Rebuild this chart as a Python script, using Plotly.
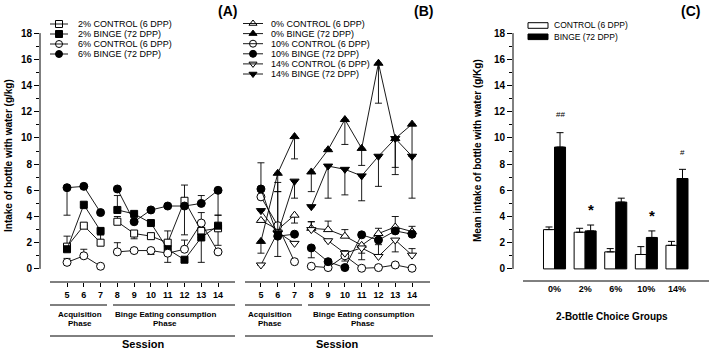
import plotly.graph_objects as go

W, H = 709, 350
FONT = "Arial, Liberation Sans, sans-serif"

# ---------------- data ----------------
sessions = [5, 6, 7, 8, 9, 10, 11, 12, 13, 14]
y_ticks = [0, 2, 4, 6, 8, 10, 12, 14, 16, 18]

# Panel A
a_2c = [1.7, 3.3, 2.0, 3.6, 2.7, 2.5, 2.0, 5.2, 2.9, 3.1]
a_2c_up = [0.8, 0, 0.6, 0.4, 0, 0, 0.9, 1.2, 0, 0]
a_2c_dn = [0, 0, 0, 0, 0.4, 0, 0, 0, 0, 1.3]
a_2b = [1.5, 4.9, 2.9, 4.5, 4.2, 3.5, 1.5, 0.7, 2.4, 3.3]
a_2b_up = [0, 0, 0, 1.1, 0, 0, 0, 0, 0, 0.8]
a_2b_dn = [0, 0.3, 0.3, 0, 0, 0, 1.0, 0, 1.9, 0]
a_6c = [0.5, 1.0, 0.2, 1.3, 1.4, 1.4, 1.2, 1.5, 3.5, 1.3]
a_6c_up = [0.3, 0.5, 0, 0.7, 0, 0, 0, 0.7, 0.8, 0]
a_6c_dn = [0, 0, 0, 0, 0, 0.3, 0, 0, 0, 0]
a_6b = [6.2, 6.3, 4.3, 6.1, 3.6, 4.5, 4.8, 4.8, 5.0, 6.0]
a_6b_up = [0, 0, 0, 0, 0, 0, 0, 0, 0.6, 0]
a_6b_dn = [2.1, 0, 0, 0, 0, 0, 0, 2.2, 0, 1.9]

# Panel B
b_0c = [3.7, 3.0, 4.1, 3.1, 3.0, 2.5, 1.8, 2.7, 3.2, 2.85]
b_0c_up = [0, 3.6, 0, 0.5, 0.65, 0.5, 0, 0.4, 0.8, 0.4]
b_0c_dn = [0, 0, 0.6, 0, 0, 0, 0.6, 0, 0, 0]
b_0b = [2.1, 7.3, 10.1, 7.4, 9.1, 11.4, 9.2, 15.7, 9.95, 11.05]
b_0b_up = [0, 0, 0, 0, 0, 0, 0, 0, 0, 0]
b_0b_dn = [0.9, 1.4, 1.7, 1.5, 0, 1.9, 1.3, 3.05, 2.2, 2.45]
b_10c = [5.5, 3.3, 0.55, 0.2, 0.1, 1.0, 0.05, 0.1, 0.3, 0.05]
b_10c_up = [0, 0, 0, 0, 0, 0.4, 0, 0, 0, 0]
b_10c_dn = [0, 0, 0, 0, 0, 0.4, 0, 0, 0, 0]
b_10b = [6.1, 2.5, 2.65, 1.6, 0.55, 0.1, 2.6, 2.2, 2.9, 2.65]
b_10b_up = [2.0, 0, 0, 0, 0, 0, 0, 0, 0, 0]
b_10b_dn = [0, 1.55, 0, 0.75, 0, 0, 0, 0, 0, 0]
b_14c = [0.3, 2.8, 1.95, 3.0, 2.15, 1.2, 1.6, 0.95, 2.2, 1.05]
b_14c_up = [0, 3.1, 0, 0.6, 0, 0, 0, 0.9, 0, 0.5]
b_14c_dn = [0, 0, 0, 0, 0, 0, 0.9, 0, 0.9, 0]
b_14b = [4.45, 2.7, 6.7, 4.75, 7.85, 7.6, 7.1, 8.6, 9.95, 8.6]
b_14b_up = [0, 0, 0, 0, 0, 0, 0, 0, 0, 0]
b_14b_dn = [0, 0, 1.3, 0, 2.45, 1.95, 1.9, 2.3, 2.75, 3.2]

# Panel C
groups = ["0%", "2%", "6%", "10%", "14%"]
c_ctrl = [3.0, 2.8, 1.3, 1.1, 1.8]
c_ctrl_err = [0.2, 0.3, 0.25, 0.6, 0.3]
c_binge = [9.3, 2.9, 5.1, 2.4, 6.9]
c_binge_err = [1.1, 0.45, 0.3, 0.5, 0.7]
c_marks = ["##", "*", "", "*", "#"]

legend_a = ["2% CONTROL (6 DPP)", "2% BINGE (72 DPP)", "6% CONTROL (6 DPP)", "6% BINGE (72 DPP)"]
legend_b = ["0% CONTROL (6 DPP)", "0% BINGE (72 DPP)", "10% CONTROL (6 DPP)",
            "10% BINGE (72 DPP)", "14% CONTROL (6 DPP)", "14% BINGE (72 DPP)"]
legend_c = ["CONTROL (6 DPP)", "BINGE (72 DPP)"]

# ---------------- helpers ----------------
def px(x):
    return x / W


def py(y):
    return 1 - y / H


def with_gap(vals, fill=None):
    # break the line between the acquisition (5-7) and binge (8-14) phases
    return list(vals[:3]) + [fill] + list(vals[3:])


gx = with_gap(sessions, 7.5)

fig = go.Figure()


def add_series(y, up, dn, symbol, filled, xa, ya, size=7):
    fig.add_trace(go.Scatter(
        x=gx, y=with_gap(y), xaxis=xa, yaxis=ya, mode="lines+markers",
        line=dict(color="black", width=0.9),
        marker=dict(symbol=symbol, size=size, color="black" if filled else "white",
                    line=dict(color="black", width=1)),
        error_y=dict(type="data", symmetric=False, array=with_gap(up, 0),
                     arrayminus=with_gap(dn, 0), color="black", thickness=0.9, width=3.5),
        showlegend=False, connectgaps=False, cliponaxis=False))


series_a = [
    (a_2c, a_2c_up, a_2c_dn, "square", False, 7),
    (a_2b, a_2b_up, a_2b_dn, "square", True, 7),
    (a_6c, a_6c_up, a_6c_dn, "circle", False, 8),
    (a_6b, a_6b_up, a_6b_dn, "circle", True, 8),
]
for y, up, dn, sym, filled, sz in series_a:
    add_series(y, up, dn, sym, filled, "x", "y", sz)

series_b = [
    (b_0c, b_0c_up, b_0c_dn, "triangle-up", False, 8),
    (b_0b, b_0b_up, b_0b_dn, "triangle-up", True, 8),
    (b_10c, b_10c_up, b_10c_dn, "circle", False, 8),
    (b_10b, b_10b_up, b_10b_dn, "circle", True, 8),
    (b_14c, b_14c_up, b_14c_dn, "triangle-down", False, 8),
    (b_14b, b_14b_up, b_14b_dn, "triangle-down", True, 8),
]
for y, up, dn, sym, filled, sz in series_b:
    add_series(y, up, dn, sym, filled, "x2", "y2", sz)

# Panel C bars
fig.add_trace(go.Bar(
    x=groups, y=c_ctrl, xaxis="x3", yaxis="y3", name=legend_c[0],
    marker=dict(color="white", line=dict(color="black", width=1)),
    error_y=dict(type="data", symmetric=False, array=c_ctrl_err, arrayminus=[0] * len(groups),
                 color="black", thickness=1, width=3.5),
    showlegend=False))
fig.add_trace(go.Bar(
    x=groups, y=c_binge, xaxis="x3", yaxis="y3", name=legend_c[1],
    marker=dict(color="black", line=dict(color="black", width=1)),
    error_y=dict(type="data", symmetric=False, array=c_binge_err, arrayminus=[0] * len(groups),
                 color="black", thickness=1, width=3.5),
    showlegend=False))

# ---------------- custom legends ----------------
shapes = []
annotations = []
leg_x, leg_y, leg_sym, leg_fill = [], [], [], []

rows_a = [24, 34, 44, 54]
for i, (label, s) in enumerate(zip(legend_a, series_a)):
    yy = rows_a[i]
    shapes.append(dict(type="line", xref="paper", yref="paper", x0=px(50), x1=px(68),
                       y0=py(yy), y1=py(yy), line=dict(color="black", width=0.9)))
    leg_x.append(59); leg_y.append(yy); leg_sym.append(s[3]); leg_fill.append("black" if s[4] else "white")
    annotations.append(dict(text=label, x=px(76), y=py(yy), xref="paper", yref="paper",
                            xanchor="left", yanchor="middle", showarrow=False,
                            font=dict(family=FONT, size=9, color="black")))

rows_b = [23.5, 33.6, 43.7, 53.8, 63.9, 74]
for i, (label, s) in enumerate(zip(legend_b, series_b)):
    yy = rows_b[i]
    shapes.append(dict(type="line", xref="paper", yref="paper", x0=px(243), x1=px(263),
                       y0=py(yy), y1=py(yy), line=dict(color="black", width=0.9)))
    leg_x.append(253); leg_y.append(yy); leg_sym.append(s[3]); leg_fill.append("black" if s[4] else "white")
    annotations.append(dict(text=label, x=px(269), y=py(yy), xref="paper", yref="paper",
                            xanchor="left", yanchor="middle", showarrow=False,
                            font=dict(family=FONT, size=9, color="black")))

fig.add_trace(go.Scatter(
    x=leg_x, y=leg_y, xaxis="x4", yaxis="y4", mode="markers",
    marker=dict(symbol=leg_sym, size=7, color=leg_fill, line=dict(color="black", width=1)),
    showlegend=False, hoverinfo="skip", cliponaxis=False))

# C legend boxes
for (y0, y1, fill, label, yc) in [(22.7, 28.3, "white", legend_c[0], 25.5),
                                  (34.0, 39.6, "black", legend_c[1], 36.8)]:
    shapes.append(dict(type="rect", xref="paper", yref="paper", x0=px(528), x1=px(548),
                       y0=py(y1), y1=py(y0), fillcolor=fill, line=dict(color="black", width=1)))
    annotations.append(dict(text=label, x=px(552), y=py(yc), xref="paper", yref="paper",
                            xanchor="left", yanchor="middle", showarrow=False,
                            font=dict(family=FONT, size=8.5, color="black")))

# ---------------- axis lines & phase brackets ----------------
def hline(x0, x1, yy, w=1):
    shapes.append(dict(type="line", xref="paper", yref="paper", x0=px(x0), x1=px(x1),
                       y0=py(yy), y1=py(yy), line=dict(color="black", width=w)))


hline(50, 235, 282)
hline(245, 430, 282)
hline(523, 709, 281)
hline(50, 107, 305)
hline(113, 235, 305)
hline(245, 302, 305)
hline(308, 430, 305)
hline(50, 235, 336)
hline(245, 433, 336)

shapes.append(dict(type="line", xref="paper", yref="y", x0=px(40), x1=px(40), y0=0, y1=18,
                   line=dict(color="black", width=1)))
shapes.append(dict(type="line", xref="paper", yref="y3", x0=px(513), x1=px(513), y0=0, y1=18,
                   line=dict(color="black", width=1)))


def text(t, x, y, size, bold=True, angle=0):
    annotations.append(dict(text=t, x=px(x), y=py(y), xref="paper", yref="paper",
                            xanchor="center", yanchor="middle", showarrow=False, textangle=angle,
                            font=dict(family=FONT, size=size, color="black",
                                      weight="bold" if bold else "normal")))


text("Acquisition", 80, 314, 8)
text("Phase", 80, 323, 8)
text("Binge Eating consumption", 165, 314, 8)
text("Phase", 165, 323, 8)
text("Acquisition", 270, 314, 8)
text("Phase", 270, 323, 8)
text("Binge Eating consumption", 363, 314, 8)
text("Phase", 363, 323, 8)
text("Session", 143, 344, 11)
text("Session", 337, 344, 11)
text("2-Bottle Choice Groups", 612, 316, 10)
text("Intake of bottle with water (g/kg)", 8, 156, 10, angle=-90)
text("Mean intake of bottle with water (g/Kg)", 477, 150, 10, angle=-90)
text("(A)", 227, 11, 14)
text("(B)", 423, 11, 14)
text("(C)", 690, 11, 14)

# significance marks over binge bars
for i, m in enumerate(c_marks):
    if not m:
        continue
    star = m == "*"
    annotations.append(dict(text=m, x=i + 0.18, y=c_binge[i] + c_binge_err[i], xref="x3", yref="y3",
                            xanchor="center", yanchor="bottom", showarrow=False,
                            yshift=5 if star else (12 if m == "##" else 10),
                            font=dict(family=FONT, size=15 if star else 8, color="black",
                                      weight="bold" if star else "normal")))

# ---------------- layout ----------------
ydom = [py(282), py(20)]
tickfont_y = dict(family=FONT, size=10, color="black", weight="bold")
tickfont_x = dict(family=FONT, size=9, color="black", weight="bold")
minor_y = dict(tickvals=[1, 3, 5, 7, 9, 11, 13, 15, 17], ticks="outside", ticklen=3,
               tickcolor="black", tickwidth=1)

common_x = dict(showgrid=False, zeroline=False, showline=False, ticks="outside", ticklen=4,
                tickcolor="black", tickwidth=1, tickfont=tickfont_x, tickvals=sessions)

fig.update_layout(
    width=W, height=H, margin=dict(l=0, r=0, t=0, b=0),
    paper_bgcolor="white", plot_bgcolor="rgba(0,0,0,0)",
    font=dict(family=FONT, color="black"),
    showlegend=False, barmode="group", bargap=0.28, bargroupgap=0,
    xaxis=dict(domain=[px(40), px(235)], range=[3.39, 15.01], anchor="y", **common_x),
    yaxis=dict(domain=ydom, range=[-1, 19], anchor="x", showgrid=False, zeroline=False,
               showline=False, ticks="outside", ticklen=5, tickcolor="black", tickwidth=1,
               tickvals=y_ticks, tickfont=tickfont_y, minor=minor_y),
    xaxis2=dict(domain=[px(245), px(430)], range=[4.05, 15.07], anchor="y2", **common_x),
    yaxis2=dict(domain=ydom, range=[-1, 19], anchor="x2", visible=False),
    xaxis3=dict(domain=[px(513), px(709)], range=[-1.356, 5.046], anchor="y3", type="category",
                showgrid=False, zeroline=False, showline=False, ticks="", tickfont=tickfont_x),
    yaxis3=dict(domain=ydom, range=[-1, 19], anchor="x3", showgrid=False, zeroline=False,
                showline=False, ticks="outside", ticklen=5, tickcolor="black", tickwidth=1,
                tickvals=y_ticks, tickfont=tickfont_y, minor=minor_y),
    xaxis4=dict(domain=[0, 1], range=[0, W], anchor="y4", visible=False, fixedrange=True),
    yaxis4=dict(domain=[0, 1], range=[H, 0], anchor="x4", visible=False, fixedrange=True),
    shapes=shapes, annotations=annotations,
)

fig.write_html("out.html", config={"displayModeBar": False},
               post_script="document.body.style.margin='0';")
